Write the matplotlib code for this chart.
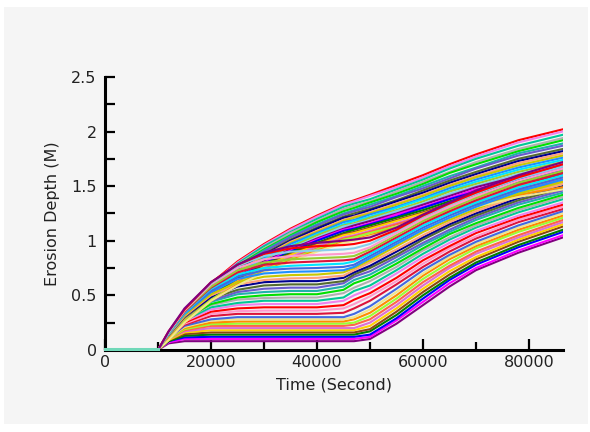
import matplotlib.pyplot as plt
from matplotlib.patches import Rectangle
from matplotlib.ticker import MultipleLocator

time_s = [0, 10000, 12000, 15000, 20000, 25000, 30000, 35000, 40000,
          45000, 47000, 50000, 55000, 60000, 65000, 70000, 78000, 86400]

# curves that stall on a plateau, then erode again after ~45000 s
plateau_curves = [
    [0, 0, 0.06, 0.08, 0.08, 0.08, 0.08, 0.08, 0.08, 0.08, 0.08, 0.10, 0.24, 0.41, 0.58, 0.73, 0.89, 1.03],
    [0, 0, 0.07, 0.10, 0.10, 0.10, 0.10, 0.10, 0.10, 0.10, 0.10, 0.12, 0.27, 0.44, 0.61, 0.75, 0.91, 1.05],
    [0, 0, 0.08, 0.115, 0.12, 0.12, 0.12, 0.12, 0.12, 0.12, 0.12, 0.14, 0.29, 0.47, 0.64, 0.78, 0.94, 1.08],
    [0, 0, 0.08, 0.13, 0.14, 0.14, 0.14, 0.14, 0.14, 0.14, 0.14, 0.17, 0.32, 0.50, 0.66, 0.80, 0.96, 1.10],
    [0, 0, 0.09, 0.145, 0.16, 0.16, 0.16, 0.16, 0.16, 0.16, 0.16, 0.19, 0.35, 0.53, 0.69, 0.83, 0.99, 1.13],
    [0, 0, 0.09, 0.16, 0.18, 0.18, 0.18, 0.18, 0.18, 0.18, 0.18, 0.22, 0.38, 0.56, 0.72, 0.85, 1.01, 1.15],
    [0, 0, 0.10, 0.17, 0.20, 0.20, 0.20, 0.20, 0.20, 0.20, 0.20, 0.25, 0.41, 0.59, 0.75, 0.88, 1.03, 1.17],
    [0, 0, 0.10, 0.18, 0.22, 0.22, 0.22, 0.22, 0.22, 0.22, 0.23, 0.28, 0.44, 0.62, 0.77, 0.90, 1.05, 1.19],
    [0, 0, 0.10, 0.19, 0.235, 0.24, 0.24, 0.24, 0.24, 0.24, 0.25, 0.31, 0.47, 0.65, 0.80, 0.93, 1.08, 1.21],
    [0, 0, 0.11, 0.20, 0.25, 0.26, 0.26, 0.26, 0.26, 0.26, 0.28, 0.34, 0.50, 0.68, 0.83, 0.95, 1.10, 1.23],
    [0, 0, 0.11, 0.21, 0.27, 0.28, 0.28, 0.28, 0.28, 0.28, 0.30, 0.37, 0.53, 0.70, 0.85, 0.97, 1.12, 1.25],
    [0, 0, 0.11, 0.22, 0.28, 0.30, 0.30, 0.30, 0.30, 0.30, 0.33, 0.40, 0.56, 0.73, 0.87, 0.99, 1.14, 1.27],
    [0, 0, 0.12, 0.23, 0.31, 0.33, 0.33, 0.33, 0.33, 0.34, 0.38, 0.45, 0.60, 0.76, 0.90, 1.02, 1.17, 1.29],
    [0, 0, 0.12, 0.24, 0.33, 0.355, 0.36, 0.36, 0.36, 0.38, 0.42, 0.49, 0.63, 0.79, 0.93, 1.04, 1.19, 1.31],
    [0, 0, 0.12, 0.25, 0.35, 0.38, 0.39, 0.39, 0.39, 0.41, 0.46, 0.52, 0.66, 0.82, 0.95, 1.07, 1.21, 1.33],
    [0, 0, 0.12, 0.26, 0.37, 0.41, 0.42, 0.42, 0.42, 0.45, 0.50, 0.56, 0.70, 0.85, 0.98, 1.09, 1.23, 1.35],
    [0, 0, 0.13, 0.27, 0.39, 0.43, 0.45, 0.45, 0.45, 0.48, 0.54, 0.59, 0.73, 0.88, 1.01, 1.12, 1.26, 1.38],
    [0, 0, 0.13, 0.28, 0.41, 0.46, 0.475, 0.48, 0.48, 0.52, 0.57, 0.63, 0.76, 0.91, 1.03, 1.14, 1.28, 1.40],
    [0, 0, 0.13, 0.28, 0.42, 0.48, 0.50, 0.51, 0.51, 0.55, 0.61, 0.66, 0.79, 0.93, 1.06, 1.16, 1.30, 1.42],
    [0, 0, 0.13, 0.29, 0.44, 0.51, 0.53, 0.54, 0.54, 0.58, 0.64, 0.69, 0.82, 0.96, 1.08, 1.19, 1.33, 1.44],
    [0, 0, 0.14, 0.30, 0.45, 0.53, 0.56, 0.57, 0.57, 0.61, 0.67, 0.72, 0.85, 0.98, 1.10, 1.21, 1.35, 1.46],
    [0, 0, 0.14, 0.30, 0.47, 0.55, 0.59, 0.60, 0.60, 0.63, 0.69, 0.75, 0.87, 1.01, 1.13, 1.23, 1.37, 1.48],
    [0, 0, 0.14, 0.31, 0.48, 0.58, 0.62, 0.63, 0.63, 0.66, 0.71, 0.77, 0.90, 1.03, 1.15, 1.25, 1.39, 1.50],
    [0, 0, 0.14, 0.31, 0.50, 0.60, 0.64, 0.655, 0.66, 0.68, 0.73, 0.80, 0.92, 1.05, 1.17, 1.27, 1.41, 1.52],
    [0, 0, 0.15, 0.32, 0.51, 0.62, 0.67, 0.685, 0.69, 0.71, 0.75, 0.82, 0.95, 1.08, 1.19, 1.29, 1.43, 1.54],
    [0, 0, 0.15, 0.33, 0.53, 0.65, 0.70, 0.715, 0.72, 0.73, 0.76, 0.84, 0.97, 1.10, 1.21, 1.31, 1.45, 1.56],
    [0, 0, 0.15, 0.34, 0.54, 0.67, 0.73, 0.745, 0.75, 0.76, 0.78, 0.86, 0.99, 1.12, 1.23, 1.33, 1.47, 1.58],
    [0, 0, 0.15, 0.34, 0.56, 0.69, 0.75, 0.77, 0.78, 0.79, 0.81, 0.88, 1.01, 1.14, 1.25, 1.35, 1.49, 1.60],
    [0, 0, 0.16, 0.35, 0.57, 0.71, 0.78, 0.80, 0.81, 0.82, 0.83, 0.90, 1.03, 1.16, 1.27, 1.37, 1.51, 1.62],
    [0, 0, 0.16, 0.36, 0.58, 0.73, 0.80, 0.83, 0.84, 0.85, 0.86, 0.92, 1.05, 1.18, 1.29, 1.39, 1.53, 1.64],
    [0, 0, 0.16, 0.36, 0.60, 0.75, 0.83, 0.86, 0.87, 0.88, 0.89, 0.94, 1.07, 1.20, 1.31, 1.41, 1.55, 1.66],
    [0, 0, 0.16, 0.37, 0.61, 0.77, 0.86, 0.90, 0.91, 0.92, 0.93, 0.97, 1.09, 1.22, 1.33, 1.43, 1.57, 1.68],
    [0, 0, 0.17, 0.37, 0.62, 0.78, 0.88, 0.93, 0.95, 0.96, 0.97, 1.00, 1.10, 1.23, 1.34, 1.44, 1.58, 1.70],
    [0, 0, 0.17, 0.38, 0.62, 0.78, 0.89, 0.95, 0.98, 1.00, 1.01, 1.03, 1.12, 1.24, 1.35, 1.46, 1.60, 1.72],
]

# curves that keep eroding all day
steady_curves = [
    [0, 0, 0.13, 0.34, 0.61, 0.81, 0.97, 1.11, 1.23, 1.34, 1.37, 1.42, 1.51, 1.60, 1.70, 1.79, 1.92, 2.02],
    [0, 0, 0.13, 0.34, 0.60, 0.80, 0.96, 1.10, 1.22, 1.33, 1.36, 1.41, 1.49, 1.58, 1.68, 1.77, 1.90, 2.00],
    [0, 0, 0.13, 0.33, 0.59, 0.79, 0.95, 1.08, 1.20, 1.31, 1.34, 1.38, 1.47, 1.56, 1.66, 1.75, 1.87, 1.97],
    [0, 0, 0.12, 0.33, 0.59, 0.78, 0.93, 1.07, 1.18, 1.29, 1.32, 1.36, 1.45, 1.54, 1.63, 1.72, 1.84, 1.94],
    [0, 0, 0.12, 0.32, 0.58, 0.77, 0.92, 1.05, 1.17, 1.27, 1.30, 1.35, 1.43, 1.52, 1.62, 1.70, 1.82, 1.92],
    [0, 0, 0.12, 0.32, 0.57, 0.76, 0.91, 1.04, 1.15, 1.25, 1.28, 1.33, 1.41, 1.50, 1.59, 1.67, 1.80, 1.89],
    [0, 0, 0.12, 0.31, 0.56, 0.75, 0.90, 1.03, 1.14, 1.24, 1.27, 1.31, 1.40, 1.48, 1.57, 1.66, 1.78, 1.87],
    [0, 0, 0.12, 0.31, 0.56, 0.74, 0.88, 1.01, 1.12, 1.22, 1.25, 1.29, 1.37, 1.46, 1.55, 1.63, 1.75, 1.84],
    [0, 0, 0.12, 0.31, 0.55, 0.73, 0.87, 1.00, 1.11, 1.21, 1.23, 1.28, 1.36, 1.44, 1.53, 1.61, 1.73, 1.82],
    [0, 0, 0.12, 0.30, 0.54, 0.72, 0.86, 0.99, 1.09, 1.19, 1.22, 1.26, 1.34, 1.42, 1.51, 1.59, 1.71, 1.80],
    [0, 0, 0.11, 0.30, 0.54, 0.71, 0.85, 0.98, 1.08, 1.18, 1.21, 1.25, 1.33, 1.41, 1.50, 1.58, 1.69, 1.78],
    [0, 0, 0.11, 0.30, 0.53, 0.70, 0.84, 0.97, 1.07, 1.17, 1.19, 1.24, 1.31, 1.39, 1.48, 1.56, 1.67, 1.76],
    [0, 0, 0.11, 0.29, 0.52, 0.70, 0.83, 0.95, 1.06, 1.15, 1.18, 1.22, 1.30, 1.38, 1.46, 1.54, 1.65, 1.74],
    [0, 0, 0.11, 0.29, 0.52, 0.69, 0.82, 0.94, 1.05, 1.14, 1.16, 1.21, 1.28, 1.36, 1.45, 1.52, 1.63, 1.72],
    [0, 0, 0.11, 0.29, 0.51, 0.68, 0.81, 0.93, 1.03, 1.13, 1.15, 1.19, 1.27, 1.34, 1.43, 1.50, 1.61, 1.70],
    [0, 0, 0.11, 0.28, 0.51, 0.67, 0.81, 0.92, 1.02, 1.11, 1.14, 1.18, 1.25, 1.33, 1.41, 1.49, 1.59, 1.68],
    [0, 0, 0.11, 0.28, 0.50, 0.66, 0.80, 0.91, 1.01, 1.10, 1.12, 1.16, 1.24, 1.31, 1.39, 1.47, 1.57, 1.66],
    [0, 0, 0.11, 0.28, 0.49, 0.66, 0.79, 0.90, 1.00, 1.09, 1.11, 1.15, 1.22, 1.30, 1.38, 1.45, 1.56, 1.64],
    [0, 0, 0.10, 0.27, 0.49, 0.65, 0.78, 0.89, 0.98, 1.07, 1.10, 1.14, 1.21, 1.28, 1.36, 1.43, 1.54, 1.62],
    [0, 0, 0.10, 0.27, 0.48, 0.64, 0.77, 0.88, 0.97, 1.06, 1.08, 1.12, 1.19, 1.26, 1.34, 1.41, 1.52, 1.60],
    [0, 0, 0.10, 0.27, 0.48, 0.63, 0.76, 0.87, 0.96, 1.05, 1.07, 1.11, 1.18, 1.25, 1.33, 1.40, 1.50, 1.58],
    [0, 0, 0.10, 0.26, 0.47, 0.62, 0.75, 0.85, 0.95, 1.03, 1.05, 1.09, 1.16, 1.23, 1.31, 1.38, 1.48, 1.56],
    [0, 0, 0.10, 0.26, 0.46, 0.62, 0.74, 0.84, 0.93, 1.02, 1.04, 1.08, 1.15, 1.22, 1.29, 1.36, 1.46, 1.54],
    [0, 0, 0.10, 0.26, 0.46, 0.61, 0.73, 0.83, 0.92, 1.01, 1.03, 1.07, 1.13, 1.20, 1.28, 1.34, 1.44, 1.52],
    [0, 0, 0.10, 0.25, 0.45, 0.60, 0.72, 0.82, 0.91, 0.99, 1.01, 1.05, 1.12, 1.18, 1.26, 1.32, 1.42, 1.49],
    [0, 0, 0.09, 0.25, 0.45, 0.59, 0.71, 0.81, 0.90, 0.98, 1.00, 1.04, 1.10, 1.17, 1.24, 1.31, 1.40, 1.47],
]

line_colors = ["#ff0000", "#00e000", "#000090", "#00e5ff", "#ff00ff", "#ffd000",
               "#ff8c00", "#ff99cc", "#b0b0b0", "#556b2f", "#1e90ff", "#800080",
               "#8b4513", "#99ff33", "#dc143c", "#00c896", "#6a5acd", "#c8c800",
               "#87ceeb", "#008000", "#ff6347", "#4169e1", "#ee82ee", "#20b2aa",
               "#ffa07a", "#9acd32", "#0000ff", "#da70d6", "#f0e68c"]

fig = plt.figure(figsize=(5.9, 4.32), dpi=100, facecolor="white")
fig.patches.append(Rectangle((4 / 590, 8 / 432), 584 / 590, 417 / 432,
                             transform=fig.transFigure, facecolor="#f5f5f5",
                             edgecolor="none", zorder=-10))
ax = fig.add_axes([0.178, 0.190, 0.776, 0.632])
ax.set_facecolor("none")

# interleave the two families so colours mix as in the original
all_curves = []
for i in range(max(len(plateau_curves), len(steady_curves))):
    if i < len(steady_curves):
        all_curves.append(steady_curves[i])
    if i < len(plateau_curves):
        all_curves.append(plateau_curves[i])

for i, depth in enumerate(all_curves):
    ax.plot(time_s, depth, color=line_colors[(i * 11) % len(line_colors)], lw=1.5)
ax.plot(time_s[:2], [0.012, 0.012], color="#70d8b8", lw=2.2, zorder=6, clip_on=False)

ax.set_xlim(0, 86400)
ax.set_ylim(0, 2.5)
ax.xaxis.set_major_locator(MultipleLocator(20000))
ax.xaxis.set_minor_locator(MultipleLocator(10000))
ax.yaxis.set_minor_locator(MultipleLocator(0.25))
ax.set_yticks([0, 0.5, 1, 1.5, 2, 2.5], ["0", "0.5", "1", "1.5", "2", "2.5"])

for side in ["top", "right"]:
    ax.spines[side].set_visible(False)
for side in ["left", "bottom"]:
    ax.spines[side].set_linewidth(2.2)
    ax.spines[side].set_zorder(5)

ax.tick_params(which="both", direction="in", width=1.6, colors="black",
               labelsize=11.5, labelcolor="#222222")
ax.tick_params(axis="x", which="major", length=8, pad=4)
ax.tick_params(axis="x", which="minor", length=6)
ax.tick_params(axis="y", which="both", length=7, pad=6)

ax.set_xlabel("Time (Second)", fontsize=11.5, color="#222222", labelpad=5)
ax.set_ylabel("Erosion Depth (M)", fontsize=11.5, color="#222222", labelpad=8)

fig.savefig("out.png", dpi=100, facecolor=fig.get_facecolor())
